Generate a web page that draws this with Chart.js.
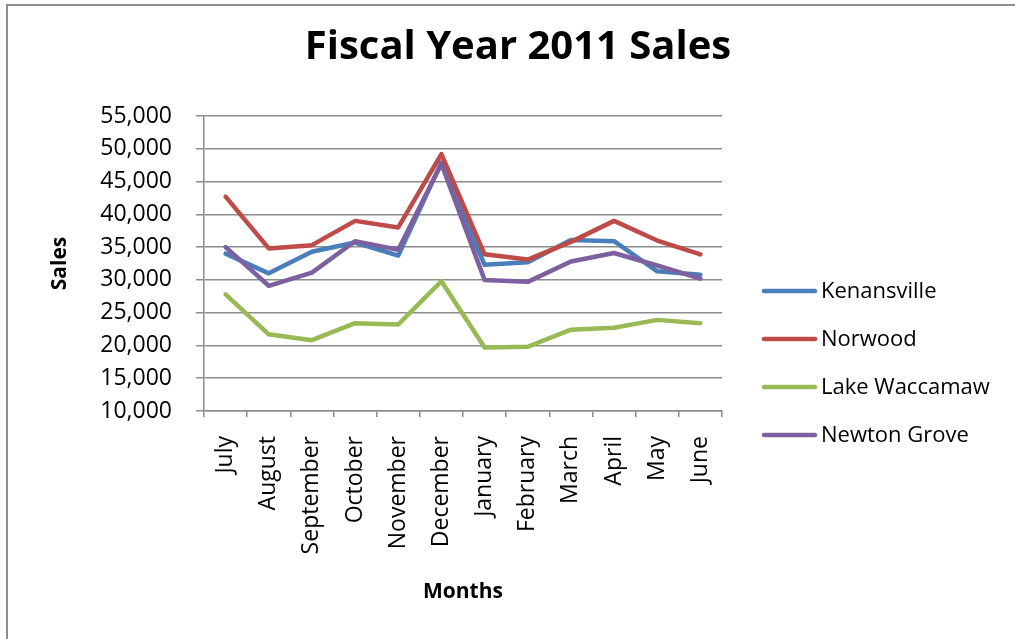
<!DOCTYPE html>
<html lang="en">
<head>
    <meta charset="UTF-8">
    <title>Fiscal Year 2011 Sales</title>
    <script src="https://cdn.jsdelivr.net/npm/chart.js"></script>
    <style>
        html, body {
            margin: 0;
            padding: 0;
            background: #fff;
            overflow: hidden;
        }
        #salesChart {
            display: block;
        }
    </style>
</head>
<body>
<canvas id="salesChart" width="1015" height="639"></canvas>
<script>
    const chartTitle = 'Fiscal Year 2011 Sales';
    const months = ['July', 'August', 'September', 'October', 'November', 'December',
                    'January', 'February', 'March', 'April', 'May', 'June'];

    const kenansville  = [34000, 31000, 34300, 35700, 33700, 47900, 32300, 32700, 36100, 35900, 31300, 30800];
    const norwood      = [42700, 34800, 35300, 39000, 38000, 49200, 33900, 33100, 35800, 39000, 36000, 33900];
    const lakeWaccamaw = [27800, 21700, 20800, 23400, 23200, 29800, 19700, 19800, 22400, 22700, 23900, 23400];
    const newtonGrove  = [35000, 29100, 31100, 35900, 34600, 47700, 30000, 29700, 32800, 34100, 32200, 30200];

    const seriesNames  = ['Kenansville', 'Norwood', 'Lake Waccamaw', 'Newton Grove'];
    const seriesValues = [kenansville, norwood, lakeWaccamaw, newtonGrove];
    const seriesColors = ['#4a7ebb', '#be4b48', '#98b954', '#7d60a0'];

    const yMin = 10000;
    const yMax = 55000;
    const yStep = 5000;

    const FONT = '"Open Sans", sans-serif';

    // outer frame (top and left edges only), title and side legend
    const decor = {
        id: 'decor',
        beforeDraw(chart) {
            const ctx = chart.ctx;
            ctx.save();
            ctx.strokeStyle = '#8e8e8e';
            ctx.lineWidth = 2;
            ctx.beginPath();
            ctx.moveTo(7, chart.height);
            ctx.lineTo(7, 5);
            ctx.lineTo(chart.width, 5);
            ctx.stroke();
            ctx.restore();
        },
        afterDraw(chart) {
            const ctx = chart.ctx;
            ctx.save();
            ctx.fillStyle = '#000';
            ctx.font = 'bold 40px ' + FONT;
            ctx.textAlign = 'center';
            ctx.textBaseline = 'middle';
            ctx.fillText(chartTitle, 518, 48);

            ctx.font = '22px ' + FONT;
            ctx.textAlign = 'left';
            chart.data.datasets.forEach((ds, i) => {
                const y = 291 + i * 48;
                ctx.strokeStyle = ds.borderColor;
                ctx.lineWidth = 4.5;
                ctx.lineCap = 'round';
                ctx.beginPath();
                ctx.moveTo(764, y);
                ctx.lineTo(815, y);
                ctx.stroke();
                ctx.fillText(ds.label, 821, y + 1);
            });
            ctx.restore();
        }
    };

    const datasets = seriesNames.map((name, i) => ({
        label: name,
        data: seriesValues[i],
        borderColor: seriesColors[i],
        backgroundColor: seriesColors[i],
        borderWidth: 4.5,
        pointRadius: 0,
        pointHoverRadius: 0,
        tension: 0,
        borderJoinStyle: 'round',
        borderCapStyle: 'round',
        // later series sit on top, like the spreadsheet draws them
        order: seriesNames.length - i
    }));

    new Chart(document.getElementById('salesChart'), {
        type: 'line',
        data: { labels: months, datasets: datasets },
        options: {
            responsive: false,
            animation: false,
            layout: { padding: { left: 0, right: 293, top: 116, bottom: 0 } },
            plugins: {
                legend: { display: false },
                title: { display: false },
                tooltip: { enabled: false }
            },
            scales: {
                x: {
                    offset: true,
                    grid: {
                        offset: true,
                        drawOnChartArea: false,
                        drawTicks: true,
                        tickLength: 6,
                        color: '#8c8c8c',
                        lineWidth: 1.5
                    },
                    border: { color: '#8c8c8c', width: 1.5 },
                    ticks: {
                        autoSkip: false,
                        maxRotation: 90,
                        minRotation: 90,
                        padding: 19,
                        color: '#000',
                        font: { family: FONT, size: 23 }
                    },
                    title: {
                        display: true,
                        text: 'Months',
                        color: '#000',
                        padding: { top: 0, bottom: 34 },
                        font: { family: FONT, size: 21, weight: 'bold' }
                    },
                    afterFit(scale) { scale.height = 228; }
                },
                y: {
                    min: yMin,
                    max: yMax,
                    grid: {
                        color: '#8c8c8c',
                        lineWidth: 1.5,
                        tickLength: 8
                    },
                    border: { color: '#8c8c8c', width: 1.5 },
                    ticks: {
                        stepSize: yStep,
                        padding: 24,
                        color: '#000',
                        font: { family: FONT, size: 23 },
                        callback: v => v.toLocaleString('en-US')
                    },
                    title: {
                        display: true,
                        text: 'Sales',
                        color: '#000',
                        padding: { top: 47, bottom: 0 },
                        font: { family: FONT, size: 21, weight: 'bold' }
                    },
                    afterFit(scale) { scale.width = 204; }
                }
            }
        },
        plugins: [decor]
    });
</script>
</body>
</html>
